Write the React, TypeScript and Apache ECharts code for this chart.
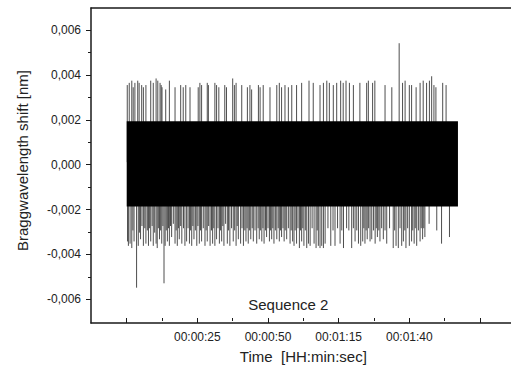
import React, { useEffect, useRef } from 'react';
import * as echarts from 'echarts';

const xTickValues = [25, 50, 75, 100];
const xTickLabels = ['00:00:25', '00:00:50', '00:01:15', '00:01:40'];
const yTickValues = [-0.006, -0.004, -0.002, 0, 0.002, 0.004, 0.006];
const yTickLabels = ['-0,006', '-0,004', '-0,002', '0,000', '0,002', '0,004', '0,006'];
const xTitle = 'Time  [HH:min:sec]';
const yTitle = 'Braggwavelength shift [nm]';
const seriesLabel = 'Sequence 2';

// dense oscillation band: [start time, end time, low, high]
const band = [[0, 117.2, -0.00201, 0.00186]];

const upperSpikes = [
  [0.2, 0.0035], [0.9, 0.0036], [1.8, 0.0037], [2.3, 0.0034], [2.9, 0.0036], [3.9, 0.0037],
  [4.4, 0.0036], [5.3, 0.0035], [5.9, 0.0034], [6.8, 0.0035], [8.5, 0.0037], [9.4, 0.0036],
  [10.4, 0.0038], [11.0, 0.0037], [11.8, 0.0036], [12.2, 0.0035], [12.5, 0.0034], [13.8, 0.0033],
  [15.1, 0.0037], [17.1, 0.0034], [19.1, 0.0035], [20.0, 0.0034], [20.9, 0.0035], [22.4, 0.0034],
  [25.3, 0.0034], [25.9, 0.0036], [26.5, 0.0035], [28.5, 0.0036], [28.9, 0.0035], [31.2, 0.0036],
  [31.8, 0.0035], [32.6, 0.0034], [34.7, 0.0035], [35.3, 0.0034], [37.5, 0.0038], [38.1, 0.0035],
  [38.7, 0.0036], [40.7, 0.0035], [42.7, 0.0034], [43.6, 0.0035], [44.2, 0.0033], [46.6, 0.0035],
  [47.2, 0.0034], [48.3, 0.0035], [50.7, 0.0034], [53.1, 0.0035], [54.0, 0.0036], [54.8, 0.0034],
  [56.0, 0.0035], [57.2, 0.0034], [58.4, 0.0035], [60.1, 0.0035], [61.9, 0.0036], [64.5, 0.0037],
  [66.0, 0.0036], [68.4, 0.0035], [69.6, 0.0036], [70.8, 0.0037], [71.7, 0.0036], [73.1, 0.0035],
  [74.3, 0.0036], [75.7, 0.0037], [76.6, 0.0036], [77.6, 0.0037], [78.8, 0.0036], [80.2, 0.0035],
  [82.5, 0.0036], [84.9, 0.0036], [85.5, 0.0037], [87.0, 0.0036], [87.8, 0.0037], [91.4, 0.0035],
  [93.8, 0.0034], [96.4, 0.0054], [97.6, 0.0036], [98.5, 0.0037], [100.0, 0.0035], [100.8, 0.0035],
  [102.4, 0.0034], [103.8, 0.0036], [104.9, 0.0037], [106.1, 0.0036], [107.1, 0.0037], [107.9, 0.0039],
  [108.7, 0.0035], [109.4, 0.0034], [111.8, 0.0036], [113.0, 0.0035]
];

const lowerSpikes = [
  [0.3, -0.0036], [0.6, -0.0038], [1.2, -0.0037], [1.8, -0.0039], [2.2, -0.0031], [2.6, -0.0036],
  [3.5, -0.0057], [4.1, -0.0038], [4.5, -0.0032], [4.9, -0.0035], [5.4, -0.0029], [5.9, -0.0038],
  [6.4, -0.0030], [6.8, -0.0037], [7.3, -0.0031], [7.7, -0.0038], [8.1, -0.0030], [8.5, -0.0036],
  [9.0, -0.0029], [9.4, -0.0038], [9.9, -0.0032], [10.4, -0.0037], [10.8, -0.0039], [11.2, -0.0030],
  [11.6, -0.0035], [12.0, -0.0031], [12.4, -0.0037], [12.8, -0.0029], [13.2, -0.0055], [13.6, -0.0038],
  [14.0, -0.0031], [14.4, -0.0036], [14.8, -0.0030], [15.1, -0.0038], [15.5, -0.0029], [15.9, -0.0034],
  [16.5, -0.0028], [17.1, -0.0037], [17.5, -0.0031], [17.9, -0.0038], [18.3, -0.0030], [18.6, -0.0035],
  [19.1, -0.0029], [19.5, -0.0037], [20.1, -0.0030], [20.6, -0.0038], [21.2, -0.0036], [21.7, -0.0030],
  [22.2, -0.0037], [22.6, -0.0031], [23.0, -0.0038], [23.4, -0.0029], [23.8, -0.0035], [24.3, -0.0031],
  [24.8, -0.0038], [25.2, -0.0029], [25.7, -0.0037], [26.1, -0.0031], [26.5, -0.0036], [27.1, -0.0030],
  [27.7, -0.0038], [28.1, -0.0031], [28.5, -0.0036], [29.0, -0.0029], [29.5, -0.0038], [30.0, -0.0031],
  [30.4, -0.0037], [30.8, -0.0030], [31.2, -0.0038], [31.8, -0.0035], [32.3, -0.0030], [32.8, -0.0037],
  [33.2, -0.0031], [33.6, -0.0036], [34.0, -0.0029], [34.4, -0.0038], [35.0, -0.0028], [35.6, -0.0037],
  [36.0, -0.0031], [36.5, -0.0038], [37.1, -0.0030], [37.7, -0.0036], [38.2, -0.0031], [38.7, -0.0038],
  [39.1, -0.0029], [39.5, -0.0035], [40.3, -0.0037], [40.8, -0.0030], [41.3, -0.0038], [41.8, -0.0031],
  [42.2, -0.0036], [42.6, -0.0030], [43.0, -0.0037], [43.5, -0.0031], [43.9, -0.0035], [44.4, -0.0030],
  [44.8, -0.0036], [45.4, -0.0031], [46.0, -0.0037], [46.5, -0.0030], [46.9, -0.0035], [47.3, -0.0031],
  [47.8, -0.0036], [48.2, -0.0030], [48.6, -0.0037], [49.1, -0.0031], [49.5, -0.0034], [50.0, -0.0030],
  [50.5, -0.0036], [50.9, -0.0031], [51.3, -0.0035], [51.7, -0.0030], [52.1, -0.0037], [52.6, -0.0031],
  [53.1, -0.0035], [53.6, -0.0030], [54.0, -0.0036], [54.4, -0.0031], [54.8, -0.0034], [55.3, -0.0030],
  [55.7, -0.0036], [56.1, -0.0031], [56.6, -0.0035], [57.2, -0.0030], [57.8, -0.0037], [58.2, -0.0031],
  [58.7, -0.0036], [59.2, -0.0038], [59.6, -0.0031], [60.1, -0.0037], [60.6, -0.0030], [61.1, -0.0039],
  [61.5, -0.0031], [61.9, -0.0036], [62.3, -0.0030], [62.7, -0.0038], [63.2, -0.0031], [63.7, -0.0039],
  [64.3, -0.0037], [64.9, -0.0038], [65.6, -0.0030], [66.3, -0.0037], [67.0, -0.0039], [67.4, -0.0031],
  [67.8, -0.0038], [68.4, -0.0039], [69.0, -0.0038], [69.6, -0.0039], [70.2, -0.0037], [71.2, -0.0030],
  [72.2, -0.0038], [73.0, -0.0031], [73.7, -0.0038], [74.6, -0.0030], [75.5, -0.0037], [76.1, -0.0031],
  [76.7, -0.0039], [77.8, -0.0030], [78.6, -0.0031], [79.6, -0.0039], [80.2, -0.0030], [80.8, -0.0036],
  [81.4, -0.0031], [82.0, -0.0037], [82.8, -0.0038], [83.5, -0.0036], [83.9, -0.0030], [84.3, -0.0037],
  [84.7, -0.0031], [85.1, -0.0035], [85.6, -0.0030], [86.1, -0.0036], [86.7, -0.0035], [87.3, -0.0031],
  [87.9, -0.0037], [88.3, -0.0030], [88.7, -0.0034], [89.2, -0.0031], [89.6, -0.0036], [90.2, -0.0030],
  [90.8, -0.0035], [91.4, -0.0031], [92.0, -0.0037], [93.0, -0.0030], [94.3, -0.0039], [94.8, -0.0031],
  [95.3, -0.0038], [96.1, -0.0039], [96.7, -0.0030], [97.3, -0.0038], [97.9, -0.0036], [98.4, -0.0031],
  [98.8, -0.0039], [99.4, -0.0030], [100.0, -0.0038], [100.8, -0.0036], [101.2, -0.0031], [101.7, -0.0037],
  [102.1, -0.0030], [102.6, -0.0038], [103.2, -0.0031], [103.8, -0.0036], [104.2, -0.0030], [104.7, -0.0035],
  [105.1, -0.0030], [105.5, -0.0034], [107.0, -0.0028], [109.7, -0.0031], [111.4, -0.0037], [114.2, -0.0034]
];

const FONT = '"Liberation Sans", Arial, Helvetica, sans-serif';
const INK = '#1a1a1a';

export default function App() {
  const ref = useRef<HTMLDivElement>(null);
  useEffect(() => {
    if (!ref.current) return;
    const chart = echarts.init(ref.current, undefined, { renderer: 'svg' });
    const frameAxis = {
      type: 'value', min: 0, max: 1,
      axisLine: { show: true, lineStyle: { color: INK, width: 1.5 } },
      axisTick: { show: false }, axisLabel: { show: false }, splitLine: { show: false }
    };
    const hiddenAxis = { type: 'value', show: false, min: 0, max: 1 };
    const spikeRender = (params: any, api: any) => {
      const a = api.coord([api.value(0), 0]);
      const b = api.coord([api.value(0), api.value(1)]);
      return {
        type: 'line',
        shape: { x1: a[0], y1: a[1], x2: b[0], y2: b[1] },
        style: { stroke: '#3a3a3a', lineWidth: 0.9 }
      };
    };
    const option: any = {
      animation: false,
      backgroundColor: '#fff',
      textStyle: { fontFamily: FONT },
      grid: [
        { left: 91, right: 0, top: 8, bottom: 46 },
        { left: 126.7, right: 31, top: 30, bottom: 69.7 },
        { left: 91, right: 0, top: 30, bottom: 69.7 }
      ],
      xAxis: [
        { ...frameAxis, gridIndex: 0, position: 'bottom' },
        { ...frameAxis, gridIndex: 0, position: 'top' },
        {
          type: 'value', gridIndex: 1, position: 'bottom', offset: 23.7,
          min: 0, max: 125, interval: 25,
          axisLine: { show: false, onZero: false },
          axisTick: { show: true, inside: false, length: 5, lineStyle: { color: INK, width: 1 } },
          minorTick: { show: true, splitNumber: 2, length: 3, lineStyle: { color: INK, width: 1 } },
          splitLine: { show: false }, minorSplitLine: { show: false },
          axisLabel: {
            show: true, margin: 13, color: '#222', fontSize: 12, fontFamily: FONT,
            formatter: (v: number) => {
              const i = xTickValues.findIndex((t) => Math.abs(t - v) < 1e-6);
              return i >= 0 ? xTickLabels[i] : '';
            }
          },
          name: xTitle, nameLocation: 'middle', nameGap: 31,
          nameTextStyle: { color: '#222', fontSize: 15, fontFamily: FONT }
        },
        { ...hiddenAxis, gridIndex: 2 }
      ],
      yAxis: [
        { ...frameAxis, gridIndex: 0, position: 'left' },
        { type: 'value', gridIndex: 1, show: false, min: -0.006, max: 0.006 },
        {
          type: 'value', gridIndex: 2, position: 'left',
          min: -0.006, max: 0.006, interval: 0.002,
          axisLine: { show: false, onZero: false },
          axisTick: { show: true, inside: false, length: 5, lineStyle: { color: INK, width: 1 } },
          minorTick: { show: true, splitNumber: 2, length: 3, lineStyle: { color: INK, width: 1 } },
          splitLine: { show: false }, minorSplitLine: { show: false },
          axisLabel: {
            show: true, margin: 10, color: '#222', fontSize: 12, fontFamily: FONT,
            formatter: (v: number) => {
              const i = yTickValues.findIndex((t) => Math.abs(t - v) < 1e-9);
              return i >= 0 ? yTickLabels[i] : '';
            }
          }
        }
      ],
      series: [
        {
          type: 'custom', xAxisIndex: 2, yAxisIndex: 1, data: upperSpikes, renderItem: spikeRender, silent: true
        },
        {
          type: 'custom', xAxisIndex: 2, yAxisIndex: 1, data: lowerSpikes, renderItem: spikeRender, silent: true
        },
        {
          type: 'custom', xAxisIndex: 2, yAxisIndex: 1, data: band, silent: true,
          renderItem: (params: any, api: any) => {
            const p0 = api.coord([api.value(0), api.value(3)]);
            const p1 = api.coord([api.value(1), api.value(2)]);
            return {
              type: 'rect',
              shape: { x: p0[0], y: p0[1], width: p1[0] - p0[0], height: p1[1] - p0[1] },
              style: { fill: '#000' }
            };
          }
        }
      ],
      graphic: [
        {
          type: 'text', x: 22, y: 160.5, rotation: Math.PI / 2,
          style: { text: yTitle, fill: '#222', fontSize: 15, fontFamily: FONT, textAlign: 'center', textVerticalAlign: 'middle' }
        },
        {
          type: 'text', x: 288.3, y: 304,
          style: { text: seriesLabel, fill: '#222', fontSize: 15, fontFamily: FONT, textAlign: 'center', textVerticalAlign: 'middle' }
        }
      ]
    };
    chart.setOption(option);
    return () => chart.dispose();
  }, []);
  return (
    <div
      ref={ref}
      style={{ position: 'fixed', left: 0, top: 0, width: 511, height: 369, background: '#fff' }}
    />
  );
}
